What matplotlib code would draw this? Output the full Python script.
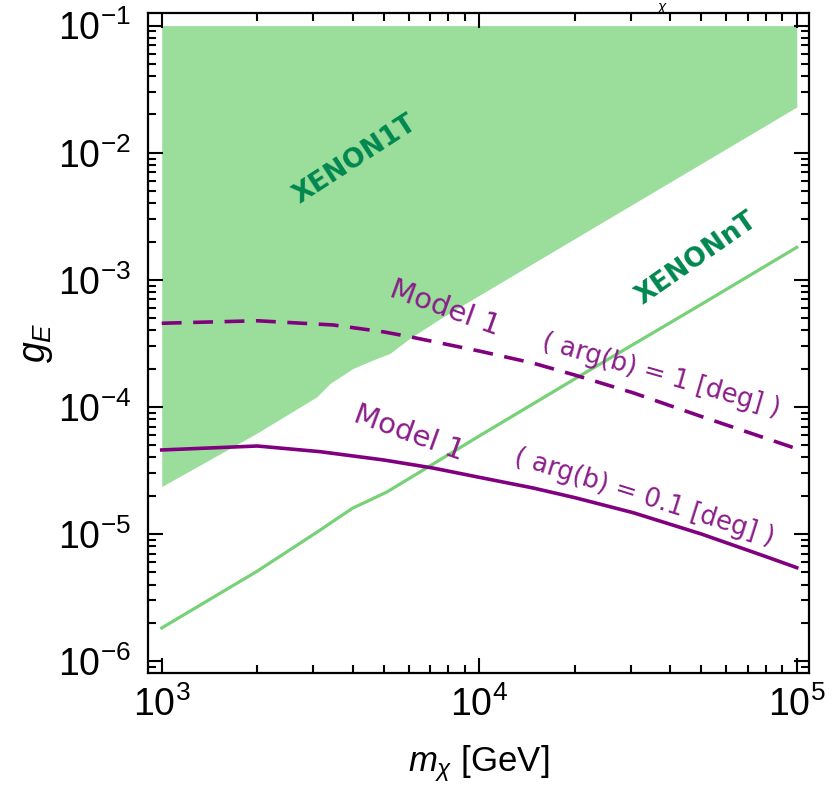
import numpy as np
import matplotlib
matplotlib.use("Agg")
import matplotlib.pyplot as plt
from matplotlib.ticker import LogLocator, NullFormatter

plt.rcParams['font.family'] = ['Liberation Sans', 'DejaVu Sans']
plt.rcParams['mathtext.fontset'] = 'custom'
plt.rcParams['mathtext.rm'] = 'Liberation Sans'
plt.rcParams['mathtext.it'] = 'Liberation Sans:italic'
plt.rcParams['mathtext.bf'] = 'Liberation Sans:bold'

# XENON1T excluded region: lower edge (the region extends up to g_E = 0.1)
x1t_mass = [1000, 1990, 3080, 3390, 4010, 4630, 5240, 6050, 7710, 20000, 100000]
x1t_limit = [2.36e-5, 6.19e-5, 1.20e-4, 1.53e-4, 2.01e-4, 2.34e-4, 2.64e-4,
             3.47e-4, 5.13e-4, 2.11e-3, 2.29e-2]
x1t_top = 0.1

# XENONnT projected sensitivity
xnt_mass = [1000, 2000, 3150, 3500, 4000, 4530, 5120, 6500, 10000, 20000, 50000, 100000]
xnt_limit = [1.82e-6, 5.1e-6, 1.07e-5, 1.28e-5, 1.6e-5, 1.85e-5, 2.14e-5, 3.07e-5,
             5.9e-5, 1.66e-4, 6.4e-4, 1.8e-3]

# Model 1 predictions, arg(b) = 1 deg (dashed) and 0.1 deg (solid)
m1_mass = [1000, 2000, 3467, 5000, 6053, 10000, 14770, 20000, 30520, 50000, 80540, 100000]
m1_g = [4.55e-4, 4.76e-4, 4.41e-4, 3.89e-4, 3.56e-4, 2.75e-4, 2.21e-4, 1.78e-4,
        1.29e-4, 8.41e-5, 5.62e-5, 4.68e-5]
m01_mass = [1000, 2000, 3153, 5000, 7153, 10000, 14770, 20000, 30520, 50000, 80540, 100000]
m01_g = [4.58e-5, 4.92e-5, 4.44e-5, 3.82e-5, 3.30e-5, 2.79e-5, 2.30e-5, 1.93e-5,
         1.47e-5, 1.0e-5, 6.59e-6, 5.43e-6]

fig = plt.figure(figsize=(8.4, 7.88), dpi=100)
ax = fig.add_axes([0.1758, 0.1463, 0.7873, 0.8368])
ax.set_xscale('log')
ax.set_yscale('log')

ax.fill_between(x1t_mass, x1t_limit, x1t_top, color='#9bde9b', lw=0, zorder=1)
ax.plot(xnt_mass, xnt_limit, color='#77d177', lw=2.3, zorder=2)
ax.plot(m1_mass, m1_g, color='#800080', lw=2.6, ls=(0, (5.5, 3.2)), zorder=3)
ax.plot(m01_mass, m01_g, color='#800080', lw=2.6, zorder=3)

ax.set_xlim(903, 1.093e5)
ax.set_ylim(8.09e-7, 0.125)

txt_purple = '#8a1d8a'
txt_green = '#00874f'
lab = dict(family=['DejaVu Sans'], ha='center', va='center', rotation_mode='anchor')
ax.text(4064, 8.77e-3, 'XENON1T', color=txt_green, fontsize=19, fontweight='bold',
        rotation=33, **lab)
ax.text(48500, 1.48e-3, 'XENONnT', color=txt_green, fontsize=19, fontweight='bold',
        rotation=35, **lab)
ax.text(7800, 6.0e-4, 'Model 1', color=txt_purple, fontsize=21, rotation=-20, **lab)
ax.text(37290, 1.78e-4, '( arg(b) = 1 [deg] )', color=txt_purple, fontsize=18.5,
        rotation=-16, **lab)
ax.text(6000, 6.25e-5, 'Model 1', color=txt_purple, fontsize=21, rotation=-20, **lab)
ax.text(33100, 1.95e-5, '( arg(b) = 0.1 [deg] )', color=txt_purple, fontsize=18.5,
        rotation=-17.5, **lab)

ax.xaxis.set_major_locator(LogLocator(base=10, numticks=10))
ax.xaxis.set_minor_locator(LogLocator(base=10, subs=np.arange(2, 10), numticks=20))
ax.yaxis.set_major_locator(LogLocator(base=10, numticks=10))
ax.yaxis.set_minor_locator(LogLocator(base=10, subs=np.arange(2, 10), numticks=20))
ax.xaxis.set_minor_formatter(NullFormatter())
ax.yaxis.set_minor_formatter(NullFormatter())

ax.tick_params(which='both', direction='in', top=True, right=True, width=1.5, colors='black')
ax.tick_params(which='major', length=11)
ax.tick_params(which='minor', length=6)
ax.tick_params(axis='x', which='major', labelsize=27, pad=10)
ax.tick_params(axis='y', which='major', labelsize=27, pad=12)
for s in ax.spines.values():
    s.set_linewidth(1.6)

ax.set_xlabel(r'$m_\chi$ [GeV]', fontsize=25, labelpad=14)
ax.set_ylabel(r'$g_E$', fontsize=27, labelpad=2)

# small subscript glyph above the frame
fig.text(0.788, 0.999, r'$\chi$', fontsize=11, ha='center', va='top')

fig.savefig('out.png', dpi=100)
